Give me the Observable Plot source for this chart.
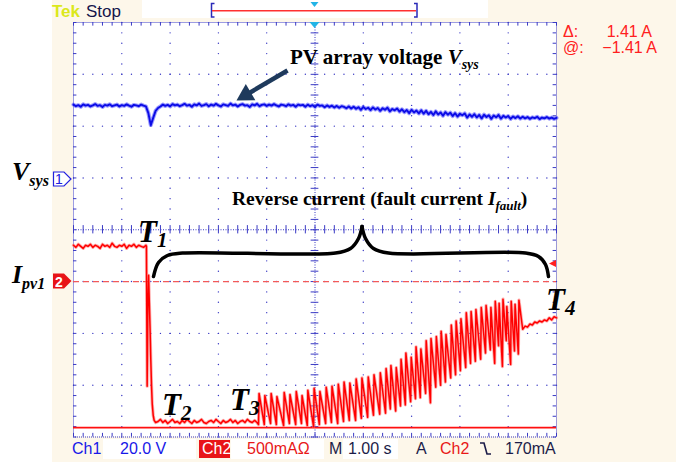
<!DOCTYPE html>
<html><head><meta charset="utf-8">
<script src="https://cdn.jsdelivr.net/npm/d3@7"></script>
<script src="https://cdn.jsdelivr.net/npm/@observablehq/plot@0.6"></script>
<style>html,body{margin:0;padding:0;background:#fff;overflow:hidden}svg{display:block}</style>
</head><body><div id="chart"></div><script>
// ---- scope settings ----
const CH1_VOLTS_PER_DIV = 20.0;
const CH2_AMPS_PER_DIV = 0.5;
const CH1_OFFSET_DIV = 0.97;
const CH2_OFFSET_DIV = -1.0;
const sampleStep = 0.05;           // s between stored samples
const cursorLevels = [0, -1.41];   // A
const triggerLevel = 0.17;         // A

// ---- Ch1: PV array voltage Vsys (V), samples from t = -5 s ----
const vsysStart = -5.0;
const vsysVolts = [
28.9,28.3,28.7,28.1,29.0,28.5,28.8,28.2,28.6,29.1,
28.4,28.7,28.0,28.8,28.5,29.0,28.3,28.6,28.9,28.2,
28.7,28.4,29.0,28.5,28.1,28.8,28.6,28.3,28.9,28.5,
28.2,25.6,21.0,23.8,26.5,27.6,28.2,
28.9,28.4,28.8,28.2,29.1,28.6,28.9,28.3,28.7,29.2,
28.5,28.8,28.1,29.0,28.6,29.3,28.4,28.7,29.1,28.3,
28.9,28.5,29.2,28.6,28.2,29.0,28.7,28.4,29.3,28.6,
28.9,28.2,28.8,29.1,28.5,28.7,28.0,29.0,28.6,29.2,
28.3,28.8,29.0,28.4,28.9,28.5,29.1,28.6,28.2,28.9,
28.7,28.3,29.0,28.5,28.8,28.1,28.9,28.6,
28.8,28.1,28.9,28.3,28.7,28.0,28.9,28.4,28.6,27.9,
28.6,28.0,28.5,27.8,28.4,27.7,28.3,28.0,27.5,28.2,
27.4,28.1,27.3,27.9,26.9,28.0,27.2,27.7,26.8,27.8,
27.0,27.6,26.5,27.5,26.9,27.7,26.3,27.2,26.7,27.4,
26.2,27.1,26.0,26.8,25.6,26.9,25.9,26.6,25.5,26.7,
25.4,26.5,25.2,26.1,24.9,26.3,25.1,25.9,24.6,26.0,
25.0,25.8,24.5,25.6,24.3,25.4,24.8,25.5,23.9,25.1,
24.2,25.2,24.0,24.9,23.6,25.0,24.1,24.8,23.4,24.7,
24.0,24.9,23.5,24.6,23.9,24.5,23.4,24.3,23.7,24.4,
23.5,24.2,23.6,24.1,23.4,24.0,23.7,24.2,23.3,23.9,
23.6,24.1,23.5,23.9,23.4,23.8
];

// ---- Ch2: PV string current Ipv1 (A) ----
const ipvPreStart = -5.0;
const ipvPre = [0.35,0.33,0.36,0.34,0.32,0.35,0.34,0.36,0.33,0.35,0.34,0.32,0.36,0.34,0.35,0.33,0.37,0.34,0.33,0.35,0.34,0.36,0.32,0.35,0.34,0.36,0.33,0.35,0.34,0.33,0.35];
const ipvDrop = [[-3.49,0.34],[-3.475,-1.01],[-3.46,-0.25],[-3.445,0.06],[-3.43,-0.20],[-3.415,-0.45],[-3.40,-0.75],[-3.385,-1.00],[-3.37,-1.18],[-3.35,-1.29],[-3.33,-1.34],[-3.30,-1.36]];
const ipvFlatStart = -3.25;
const ipvFlat = [-1.35,-1.33,-1.36,-1.34,-1.37,-1.35,-1.33,-1.36,-1.35,-1.37,
-1.34,-1.36,-1.33,-1.35,-1.37,-1.34,-1.36,-1.35,-1.33,-1.36,
-1.37,-1.35,-1.34,-1.36,-1.33,-1.35,-1.37,-1.34,-1.36,-1.35,
-1.33,-1.36,-1.34,-1.37,-1.35,-1.34,-1.36,-1.33,-1.35,-1.36,-1.34,-1.36];
// oscillation after T3: [time s, peak A, trough A]
const ipvSpikes = [
[-1.17,-1.08,-1.38],[-1.05,-1.10,-1.38],[-0.92,-1.08,-1.37],[-0.80,-1.11,-1.38],[-0.65,-1.07,-1.39],
[-0.53,-1.09,-1.37],[-0.40,-1.06,-1.38],[-0.28,-1.10,-1.37],[-0.16,-1.05,-1.39],[-0.03,-1.03,-1.40],
[0.09,-1.06,-1.38],[0.22,-1.02,-1.37],[0.34,-1.01,-1.36],[0.47,-0.99,-1.37],[0.59,-0.97,-1.35],
[0.71,-0.98,-1.34],[0.84,-0.94,-1.34],[0.96,-0.93,-1.32],[1.09,-0.92,-1.31],[1.21,-0.90,-1.29],
[1.34,-0.88,-1.28],[1.46,-0.84,-1.27],[1.56,-0.81,-1.23],[1.67,-0.83,-1.25],[1.77,-0.75,-1.20],
[1.87,-0.69,-1.19],[1.98,-0.73,-1.16],[2.08,-0.63,-1.13],[2.18,-0.65,-1.12],[2.29,-0.57,-1.08],
[2.39,-0.55,-1.17],[2.50,-0.53,-1.02],[2.60,-0.48,-1.00],[2.70,-0.51,-0.97],[2.81,-0.42,-0.93],
[2.91,-0.38,-0.90],[3.01,-0.36,-0.86],[3.12,-0.30,-0.83],[3.22,-0.29,-0.79],[3.32,-0.27,-0.77],
[3.43,-0.25,-0.75],[3.53,-0.23,-0.69],[3.63,-0.25,-0.66],[3.72,-0.19,-0.79],[3.80,-0.21,-0.62],
[3.88,-0.17,-0.82],[3.96,-0.24,-0.57],[4.05,-0.19,-0.80],[4.13,-0.22,-0.67],[4.21,-0.18,-0.70]
];
const ipvTailStart = 4.30;
const ipvTail = [-0.46,-0.43,-0.44,-0.41,-0.42,-0.39,-0.40,-0.38,-0.39,-0.37,-0.38,-0.35,-0.37,-0.34,-0.35];

// ---- annotation positions (time s, screen divisions) ----
const braceLeft = [[-3.344,-0.903],[-3.240,-0.632],[-3.054,-0.497],[-2.743,-0.449],[0.424,-0.449],[0.735,-0.362],[0.901,-0.169],[0.973,0.063]];
const braceRight = [[0.973,0.063],[1.046,-0.169],[1.211,-0.362],[1.522,-0.449],[4.358,-0.449],[4.627,-0.516],[4.772,-0.671],[4.834,-0.903]];
const arrowTail = [-0.569, 3.074];
const arrowHead = [-1.431, 2.601];
const labels = [
  {t:-0.507, d:3.190, size:21, parts:[{s:"PV array voltage "},{s:"V",it:1},{s:"sys",it:1,fs:14,dy:5}]},
  {t:-1.708, d:0.468, size:19.5, parts:[{s:"Reverse current (fault current "},{s:"I",it:1},{s:"fault",it:1,fs:13,dy:5},{s:")",dy:0}]},
  {t:-6.263, d:0.951, size:26, parts:[{s:"V",it:1},{s:"sys",it:1,fs:16,dy:6}]},
  {t:-6.263, d:-1.042, size:26, parts:[{s:"I",it:1},{s:"pv1",it:1,fs:16,dy:6}]},
  {t:-3.654, d:-0.246, size:31, parts:[{s:"T",it:1},{s:"1",it:1,fs:21,dy:5}]},
  {t:-3.157, d:-3.586, size:31, parts:[{s:"T",it:1},{s:"2",it:1,fs:21,dy:5}]},
  {t:-1.749, d:-3.489, size:31, parts:[{s:"T",it:1},{s:"3",it:1,fs:21,dy:5}]},
  {t:4.793, d:-1.559, size:31, parts:[{s:"T",it:1},{s:"4",it:1,fs:21,dy:5}]}
];
// status readouts
const statusItems = [
  {x:72, s:"Ch1", c:"#1818e8"},{x:120, s:"20.0 V", c:"#1818e8"},
  {x:202, s:"Ch2", c:"#ffffff"},{x:247, s:"500mA\u03a9", c:"#e81818"},
  {x:329, s:"M", c:"#1c1c48"},{x:348, s:"1.00 s", c:"#1c1c48"},
  {x:416, s:"A", c:"#1c1c48"},{x:440, s:"Ch2", c:"#e81818"},{x:505, s:"170mA", c:"#1c1c48"}
];

// ---- build series ----
const ch1 = vsysVolts.map((v,i)=>({t: vsysStart + i*sampleStep, v}));
const ch2 = [];
ipvPre.forEach((a,i)=>ch2.push({t: ipvPreStart + i*sampleStep, a}));
ipvDrop.forEach(([t,a])=>ch2.push({t,a}));
ipvFlat.forEach((a,i)=>ch2.push({t: ipvFlatStart + i*sampleStep, a}));
ipvSpikes.forEach(([t,p,tr])=>{ch2.push({t, a:tr}); ch2.push({t:t+0.012, a:p});});
ipvTail.forEach((a,i)=>ch2.push({t: ipvTailStart + i*sampleStep, a}));
const y1 = d => d.v / CH1_VOLTS_PER_DIV + CH1_OFFSET_DIV;
const y2 = d => d.a / CH2_AMPS_PER_DIV + CH2_OFFSET_DIV;

// ---- grid ----
const gridBlue = "#3a3ac4";
const majorT = [-4,-3,-2,-1,1,2,3,4], majorD = [-3,-2,-1,1,2,3];
const minorT = d3.range(-50,51,2).map(k=>k/10), minorD = d3.range(-40,41,2).map(k=>k/10);
const gridPts = majorT.flatMap(t=>minorD.map(d=>({t,d}))).concat(majorD.flatMap(d=>minorT.map(t=>({t,d}))));

const NS = "http://www.w3.org/2000/svg";
function el(tag, attrs, parent){const e=document.createElementNS(NS,tag);for(const k in attrs)e.setAttribute(k,attrs[k]);if(parent)parent.appendChild(e);return e;}
function txt(parent, x, y, s, attrs){const t=el("text",Object.assign({x,y,"text-anchor":"start"},attrs),parent);t.textContent=s;return t;}

function chromeBack(index, scales, values, dims){
  const W=dims.width,H=dims.height,L=dims.marginLeft,T=dims.marginTop,R=W-dims.marginRight,B=H-dims.marginBottom;
  const g=el("g",{});
  el("rect",{x:52,y:0,width:W-52,height:H,fill:"#fdf7ea"},g);
  el("rect",{x:L,y:T,width:R-L,height:B-T,fill:"#ffffff"},g);
  el("rect",{x:142,y:0,width:346,height:18,fill:"#ffffff"},g);
  el("rect",{x:103,y:439,width:93,height:20,fill:"#ffffff"},g);
  el("rect",{x:231,y:439,width:93,height:20,fill:"#ffffff"},g);
  el("rect",{x:343,y:439,width:55,height:20,fill:"#ffffff"},g);
  el("rect",{x:199,y:440,width:31,height:18,fill:"#e81418"},g);
  return g;
}
function chromeFront(index, scales, values, dims){
  const W=dims.width,R=W-dims.marginRight,T=dims.marginTop;
  const g=el("g",{"font-family":"'Liberation Sans',Arial,sans-serif","text-anchor":"start"});
  // top bar
  txt(g,52,17,"Tek",{"font-size":17,"font-weight":"bold",fill:"#dbe81a"});
  txt(g,86,17,"Stop",{"font-size":17,fill:"#15154a"});
  el("path",{d:"M214.5,3.5H211.5V17H214.5M414,3.5H417V17H414",fill:"none",stroke:"#2a2ab8","stroke-width":1.5},g);
  el("line",{x1:212,x2:416,y1:10.7,y2:10.7,stroke:"#ff3030","stroke-width":1.6},g);
  const xc=scales.x(0);
  el("path",{d:`M${xc-4},2L${xc+4},2L${xc},7Z`,fill:"#22b4e6"},g);
  el("path",{d:`M${xc-5},${T}L${xc+5},${T}L${xc},${T+6}Z`,fill:"#22b4e6"},g);
  // cursor readouts
  txt(g,563,37,"\u0394:",{"font-size":16,fill:"#ff2020"});
  txt(g,652,37,"1.41 A",{"font-size":16,fill:"#ff2020","text-anchor":"end"});
  txt(g,563,53,"@:",{"font-size":16,fill:"#ff2020"});
  txt(g,657,53,"\u22121.41 A",{"font-size":16,fill:"#ff2020","text-anchor":"end"});
  // channel ground markers
  const ya=scales.y(CH1_OFFSET_DIV), yb=scales.y(CH2_OFFSET_DIV);
  el("path",{d:`M53.5,${ya-7}H64L71,${ya}L64,${ya+7}H53.5Z`,fill:"#fff",stroke:"#2020e0","stroke-width":1.2},g);
  txt(g,59,ya+5.5,"1",{"font-size":14,fill:"#2020e0","text-anchor":"middle"});
  el("path",{d:`M53,${yb-7.5}H64L71.5,${yb}L64,${yb+7.5}H53Z`,fill:"#e81418"},g);
  txt(g,59,yb+5.5,"2",{"font-size":14,"font-weight":"bold",fill:"#fff","text-anchor":"middle"});
  // trigger level marker
  const yt=scales.y(triggerLevel/CH2_AMPS_PER_DIV+CH2_OFFSET_DIV);
  el("path",{d:`M${R-7},${yt}L${R},${yt-3.5}L${R},${yt+3.5}Z`,fill:"#ff2020"},g);
  // status bar
  for(const it of statusItems) txt(g,it.x,454,it.s,{"font-size":16,fill:it.c});
  el("path",{d:"M480,443H484L487,454H491",fill:"none",stroke:"#1c1c48","stroke-width":1.6},g);
  return g;
}
function labelMark(index, scales){
  const g=el("g",{"font-family":"'Liberation Serif','Times New Roman',serif","font-weight":"bold",fill:"#000","text-anchor":"start"});
  for(const a of labels){
    const t=el("text",{x:scales.x(a.t),y:scales.y(a.d),"font-size":a.size,"text-anchor":"start"},g);
    let cur=0;
    for(const p of a.parts){
      const s=el("tspan",{},t);
      if(p.it) s.setAttribute("font-style","italic");
      if(p.fs) s.setAttribute("font-size",p.fs);
      const target=p.dy||0; if(target!==cur){s.setAttribute("dy",target-cur);cur=target;}
      s.textContent=p.s;
    }
  }
  return g;
}

const plot = Plot.plot({
  width: 676, height: 462,
  marginLeft: 73, marginRight: 120, marginTop: 22, marginBottom: 25.5,
  x: {domain: [-5, 5], axis: null},
  y: {domain: [-4, 4], axis: null},
  style: {background: "#ffffff", overflow: "visible"},
  marks: [
    chromeBack,
    Plot.dot(gridPts, {x:"t", y:"d", r:0.7, fill:gridBlue, stroke:null}),
    Plot.ruleX([0], {stroke:gridBlue, strokeDasharray:"1,1.5"}),
    Plot.ruleY([0], {stroke:gridBlue, strokeDasharray:"1,1.5"}),
    Plot.ruleY(minorD, {y:d=>d, x1:-0.08, x2:0.08, stroke:gridBlue}),
    Plot.ruleX(minorT, {x:d=>d, y1:-0.08, y2:0.08, stroke:gridBlue}),
    Plot.frame({stroke:gridBlue, strokeDasharray:"1,1"}),
    Plot.ruleX(minorT, {x:d=>d, y1:4, y2:3.93, stroke:gridBlue}),
    Plot.ruleX(minorT, {x:d=>d, y1:-4, y2:-3.93, stroke:gridBlue}),
    Plot.ruleY(minorD, {y:d=>d, x1:-5, x2:-4.93, stroke:gridBlue}),
    Plot.ruleY(minorD, {y:d=>d, x1:5, x2:4.93, stroke:gridBlue}),
    // cursors
    Plot.ruleY([cursorLevels[0]], {y:a=>a/CH2_AMPS_PER_DIV+CH2_OFFSET_DIV, stroke:"#f25a5a", strokeWidth:1.3, strokeDasharray:"6,4"}),
    Plot.ruleY([cursorLevels[1]], {y:a=>a/CH2_AMPS_PER_DIV+CH2_OFFSET_DIV, stroke:"#ff1010", strokeWidth:1.6}),
    // traces
    Plot.line(ch1, {x:"t", y:y1, stroke:"#4a4aff", strokeWidth:4, strokeOpacity:0.55}),
    Plot.line(ch1, {x:"t", y:y1, stroke:"#0c0ce6", strokeWidth:1.9}),
    Plot.line(ch2, {x:"t", y:y2, stroke:"#ff6a6a", strokeWidth:3.2, strokeOpacity:0.55}),
    Plot.line(ch2, {x:"t", y:y2, stroke:"#ff0000", strokeWidth:1.5}),
    // annotations
    Plot.line(braceLeft, {x:d=>d[0], y:d=>d[1], curve:"catmull-rom", stroke:"#000", strokeWidth:3.5, strokeLinecap:"round"}),
    Plot.line(braceRight, {x:d=>d[0], y:d=>d[1], curve:"catmull-rom", stroke:"#000", strokeWidth:3.5, strokeLinecap:"round"}),
    Plot.link([0], {x1:arrowTail[0], y1:arrowTail[1], x2:arrowHead[0], y2:arrowHead[1], stroke:"#1e3a5c", strokeWidth:4.5}),
    Plot.dot([0], {x:arrowHead[0], y:arrowHead[1], symbol:"triangle", r:7, rotate:239.5, fill:"#1e3a5c", stroke:null}),
    labelMark,
    chromeFront
  ]
});
document.getElementById("chart").appendChild(plot);
</script></body></html>
